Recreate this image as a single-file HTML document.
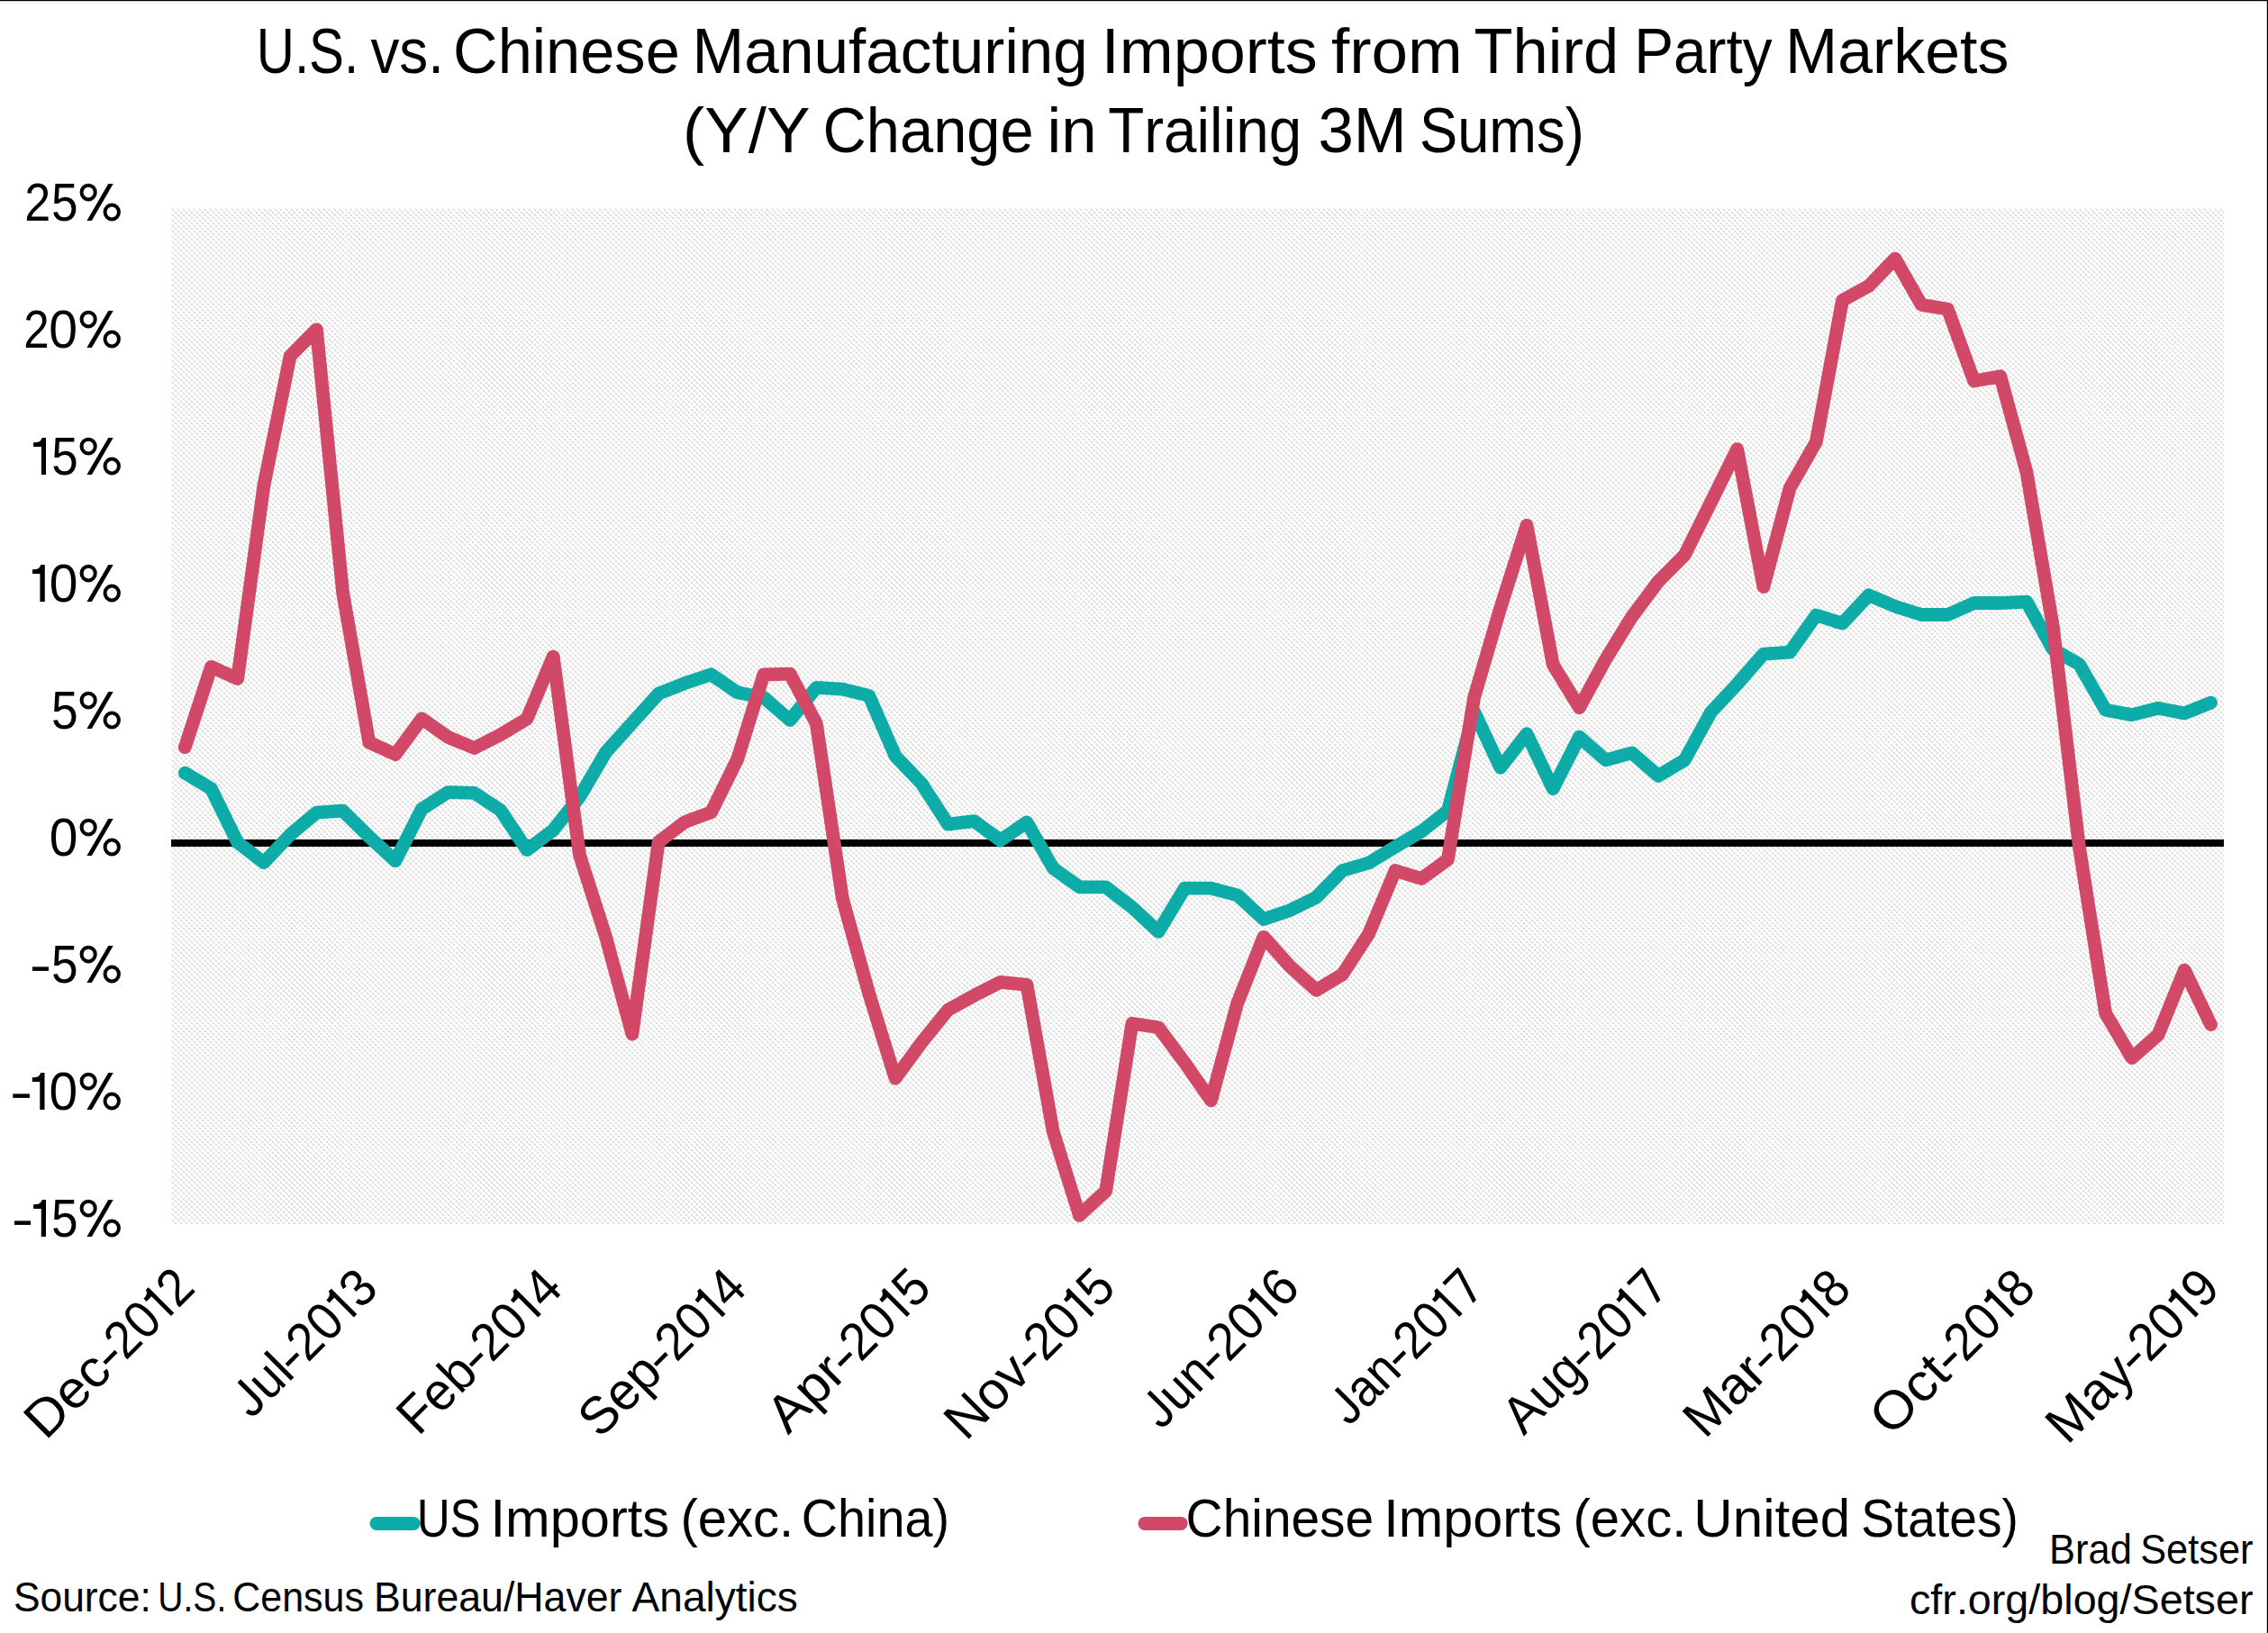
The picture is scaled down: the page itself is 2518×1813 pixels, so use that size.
<!DOCTYPE html>
<html><head><meta charset="utf-8"><style>
html,body{margin:0;padding:0;background:#fff;}
body{width:2518px;height:1813px;overflow:hidden;}
svg{display:block;}
text{font-family:"Liberation Sans",sans-serif;font-kerning:none;fill:#000;}
</style></head><body>
<svg xmlns="http://www.w3.org/2000/svg" width="2518" height="1813" viewBox="0 0 2518 1813">
<defs>
<pattern id="hatch" patternUnits="userSpaceOnUse" x="0" y="0" width="6" height="6"><rect width="6" height="6" fill="#fff"/><rect x="1" y="0" width="1" height="1" fill="#dcdcdc"/><rect x="2" y="1" width="1" height="1" fill="#dcdcdc"/><rect x="3" y="1" width="1" height="1" fill="#dcdcdc"/><rect x="2" y="2" width="1" height="1" fill="#dcdcdc"/><rect x="3" y="2" width="1" height="1" fill="#dcdcdc"/><rect x="4" y="3" width="1" height="1" fill="#dcdcdc"/><rect x="0" y="4" width="1" height="1" fill="#dcdcdc"/><rect x="5" y="4" width="1" height="1" fill="#dcdcdc"/><rect x="0" y="5" width="1" height="1" fill="#dcdcdc"/><rect x="5" y="5" width="1" height="1" fill="#dcdcdc"/></pattern>
</defs>
<rect width="2518" height="1813" fill="#fff"/>

<rect x="190.0" y="231.0" width="2279.0" height="1128.0" fill="url(#hatch)" shape-rendering="crispEdges"/>
<line x1="190.0" y1="936.00" x2="2469.0" y2="936.00" stroke="#000" stroke-width="8"/>
<polyline points="205.3,858.2 234.5,875.7 263.7,935.2 292.9,957.7 322.1,926.7 351.4,902.2 380.6,900.2 409.8,929.0 439.0,955.7 468.2,898.2 497.4,879.6 526.6,880.4 555.8,899.6 585.0,943.6 614.2,921.6 643.5,884.7 672.7,835.0 701.9,802.6 731.1,770.2 760.3,758.6 789.5,748.8 818.7,768.8 847.9,774.4 877.1,799.5 906.3,763.4 935.5,765.1 964.8,772.4 994.0,839.3 1023.2,870.0 1052.4,915.1 1081.6,911.7 1110.8,932.9 1140.0,912.9 1169.2,963.9 1198.4,984.8 1227.7,984.8 1256.9,1007.3 1286.1,1034.4 1315.3,986.2 1344.5,986.2 1373.7,993.8 1402.9,1020.6 1432.1,1010.7 1461.3,996.3 1490.5,966.5 1519.8,958.0 1549.0,940.2 1578.2,923.0 1607.4,900.2 1636.6,790.2 1665.8,852.2 1695.0,814.7 1724.2,875.7 1753.4,818.1 1782.6,843.8 1811.8,835.9 1841.1,861.3 1870.3,843.8 1899.5,790.8 1928.7,759.5 1957.9,726.2 1987.1,724.2 2016.3,683.0 2045.5,692.1 2074.7,660.8 2104.0,673.2 2133.2,682.5 2162.4,682.5 2191.6,669.5 2220.8,669.5 2250.0,668.1 2279.2,720.8 2308.4,737.5 2337.6,788.2 2366.8,793.6 2396.1,786.3 2425.3,791.9 2454.5,780.1" fill="none" stroke="#0eaca8" stroke-width="14.8" stroke-linejoin="round" stroke-linecap="round"/>
<polyline points="205.3,829.7 234.5,740.3 263.7,753.5 292.9,538.9 322.1,395.4 351.4,365.8 380.6,657.9 409.8,824.3 439.0,837.6 468.2,797.8 497.4,818.4 526.6,830.5 555.8,815.6 585.0,798.1 614.2,729.0 643.5,949.5 672.7,1040.6 701.9,1148.1 731.1,934.9 760.3,912.6 789.5,901.9 818.7,842.9 847.9,749.0 877.1,748.2 906.3,803.2 935.5,998.3 964.8,1103.2 994.0,1197.1 1023.2,1157.4 1052.4,1121.3 1081.6,1105.2 1110.8,1090.3 1140.0,1093.4 1169.2,1256.4 1198.4,1349.4 1227.7,1322.3 1256.9,1136.2 1286.1,1140.7 1315.3,1179.9 1344.5,1221.9 1373.7,1113.9 1402.9,1040.3 1432.1,1072.8 1461.3,1099.3 1490.5,1081.8 1519.8,1036.4 1549.0,966.5 1578.2,975.5 1607.4,954.3 1636.6,774.4 1665.8,674.9 1695.0,583.2 1724.2,737.8 1753.4,785.7 1782.6,732.1 1811.8,684.7 1841.1,645.5 1870.3,616.2 1899.5,557.6 1928.7,498.6 1957.9,651.5 1987.1,541.8 2016.3,490.7 2045.5,333.4 2074.7,317.6 2104.0,287.1 2133.2,338.4 2162.4,343.2 2191.6,423.0 2220.8,417.7 2250.0,524.3 2279.2,694.9 2308.4,940.2 2337.6,1124.9 2366.8,1174.6 2396.1,1148.9 2425.3,1077.0 2454.5,1137.6" fill="none" stroke="#d14967" stroke-width="14.8" stroke-linejoin="round" stroke-linecap="round"/>
<text transform="translate(284.80 81.00) scale(0.8205 1)" font-size="71.08">U.S.</text>
<text transform="translate(411.38 81.00) scale(0.8990 1)" font-size="71.08">vs.</text>
<text transform="translate(503.12 81.00) scale(0.9653 1)" font-size="71.08">Chinese</text>
<text transform="translate(768.61 81.00) scale(0.9755 1)" font-size="71.08">Manufacturing</text>
<text transform="translate(1222.65 81.00) scale(1.0139 1)" font-size="71.08">Imports</text>
<text transform="translate(1477.97 81.00) scale(1.0259 1)" font-size="71.08">from</text>
<text transform="translate(1636.52 81.00) scale(0.9926 1)" font-size="71.08">Third</text>
<text transform="translate(1814.21 81.00) scale(0.9248 1)" font-size="71.08">Party</text>
<text transform="translate(1981.97 81.00) scale(0.9826 1)" font-size="71.08">Markets</text>
<text transform="translate(758.09 169.00) scale(1.0230 1)" font-size="71.08">(Y/Y</text>
<text transform="translate(913.50 169.00) scale(0.9409 1)" font-size="71.08">Change</text>
<text transform="translate(1162.56 169.00) scale(0.9967 1)" font-size="71.08">in</text>
<text transform="translate(1230.13 169.00) scale(0.9230 1)" font-size="71.08">Trailing</text>
<text transform="translate(1463.40 169.00) scale(0.9956 1)" font-size="71.08">3M</text>
<text transform="translate(1576.03 169.00) scale(0.8897 1)" font-size="71.08">Sums)</text>
<g><text transform="translate(27.28 244.90) scale(0.5202 0.5858)" font-size="100">2</text><text transform="translate(56.97 245.12) scale(0.5315 0.5948)" font-size="100">5</text><ellipse cx="98.15" cy="213.55" rx="7.6" ry="7.9" fill="none" stroke="#000" stroke-width="4.0"/><ellipse cx="124.25" cy="235.50" rx="7.7" ry="7.95" fill="none" stroke="#000" stroke-width="4.0"/><path d="M96.40,244.90 L101.90,244.90 L125.70,204.10 L120.30,204.10 Z"/></g>
<g><text transform="translate(26.33 385.90) scale(0.5115 0.5858)" font-size="100">2</text><text transform="translate(54.37 385.92) scale(0.5711 0.5918)" font-size="100">0</text><ellipse cx="98.15" cy="354.55" rx="7.6" ry="7.9" fill="none" stroke="#000" stroke-width="4.0"/><ellipse cx="124.25" cy="376.50" rx="7.7" ry="7.95" fill="none" stroke="#000" stroke-width="4.0"/><path d="M96.40,385.90 L101.90,385.90 L125.70,345.10 L120.30,345.10 Z"/></g>
<g><path d="M37.10,491.30 L41.10,491.10 C43.90,490.60 45.90,489.30 46.80,486.10 L51.00,486.10 L51.00,526.90 L45.90,526.90 L45.90,495.90 L37.10,495.90 Z"/><text transform="translate(57.18 527.12) scale(0.5294 0.5948)" font-size="100">5</text><ellipse cx="98.15" cy="495.55" rx="7.6" ry="7.9" fill="none" stroke="#000" stroke-width="4.0"/><ellipse cx="124.25" cy="517.50" rx="7.7" ry="7.95" fill="none" stroke="#000" stroke-width="4.0"/><path d="M96.40,526.90 L101.90,526.90 L125.70,486.10 L120.30,486.10 Z"/></g>
<g><path d="M36.00,632.30 L40.00,632.10 C42.80,631.60 44.40,630.30 45.30,627.10 L49.80,627.10 L49.80,667.90 L44.40,667.90 L44.40,636.90 L36.00,636.90 Z"/><text transform="translate(54.68 667.92) scale(0.5690 0.5918)" font-size="100">0</text><ellipse cx="98.15" cy="636.55" rx="7.6" ry="7.9" fill="none" stroke="#000" stroke-width="4.0"/><ellipse cx="124.25" cy="658.50" rx="7.7" ry="7.95" fill="none" stroke="#000" stroke-width="4.0"/><path d="M96.40,667.90 L101.90,667.90 L125.70,627.10 L120.30,627.10 Z"/></g>
<g><text transform="translate(57.06 809.12) scale(0.5336 0.5948)" font-size="100">5</text><ellipse cx="98.15" cy="777.55" rx="7.6" ry="7.9" fill="none" stroke="#000" stroke-width="4.0"/><ellipse cx="124.25" cy="799.50" rx="7.7" ry="7.95" fill="none" stroke="#000" stroke-width="4.0"/><path d="M96.40,808.90 L101.90,808.90 L125.70,768.10 L120.30,768.10 Z"/></g>
<g><text transform="translate(54.68 949.92) scale(0.5690 0.5918)" font-size="100">0</text><ellipse cx="98.15" cy="918.55" rx="7.6" ry="7.9" fill="none" stroke="#000" stroke-width="4.0"/><ellipse cx="124.25" cy="940.50" rx="7.7" ry="7.95" fill="none" stroke="#000" stroke-width="4.0"/><path d="M96.40,949.90 L101.90,949.90 L125.70,909.10 L120.30,909.10 Z"/></g>
<g><rect x="35.90" y="1073.40" width="18.10" height="4.5"/><text transform="translate(56.97 1091.12) scale(0.5315 0.5948)" font-size="100">5</text><ellipse cx="98.15" cy="1059.55" rx="7.6" ry="7.9" fill="none" stroke="#000" stroke-width="4.0"/><ellipse cx="124.25" cy="1081.50" rx="7.7" ry="7.95" fill="none" stroke="#000" stroke-width="4.0"/><path d="M96.40,1090.90 L101.90,1090.90 L125.70,1050.10 L120.30,1050.10 Z"/></g>
<g><rect x="14.30" y="1214.40" width="18.60" height="4.5"/><path d="M35.80,1196.30 L39.80,1196.10 C42.60,1195.60 44.30,1194.30 45.20,1191.10 L49.50,1191.10 L49.50,1231.90 L44.30,1231.90 L44.30,1200.90 L35.80,1200.90 Z"/><text transform="translate(54.48 1231.92) scale(0.5690 0.5918)" font-size="100">0</text><ellipse cx="98.15" cy="1200.55" rx="7.6" ry="7.9" fill="none" stroke="#000" stroke-width="4.0"/><ellipse cx="124.25" cy="1222.50" rx="7.7" ry="7.95" fill="none" stroke="#000" stroke-width="4.0"/><path d="M96.40,1231.90 L101.90,1231.90 L125.70,1191.10 L120.30,1191.10 Z"/></g>
<g><rect x="16.00" y="1355.40" width="18.10" height="4.5"/><path d="M37.10,1337.30 L41.10,1337.10 C43.90,1336.60 45.80,1335.30 46.70,1332.10 L51.00,1332.10 L51.00,1372.90 L45.80,1372.90 L45.80,1341.90 L37.10,1341.90 Z"/><text transform="translate(57.07 1373.12) scale(0.5315 0.5948)" font-size="100">5</text><ellipse cx="98.15" cy="1341.55" rx="7.6" ry="7.9" fill="none" stroke="#000" stroke-width="4.0"/><ellipse cx="124.25" cy="1363.50" rx="7.7" ry="7.95" fill="none" stroke="#000" stroke-width="4.0"/><path d="M96.40,1372.90 L101.90,1372.90 L125.70,1332.10 L120.30,1332.10 Z"/></g>
<g transform="translate(216.90 1434.00) rotate(-45) translate(-229.97 0) scale(1.0241 1) translate(-4.80 0)"><text x="0.00" y="0" font-size="58.50">Dec</text></g>
<g transform="translate(216.90 1434.00) rotate(-45) translate(-118.37 0) scale(0.9352 1) translate(-113.77 0)"><path transform="translate(104.03 0) scale(0.02856 -0.02856)" d="M-5,455 L687,455 L687,612 L-5,612 Z"/></g>
<g transform="translate(216.90 1434.00) rotate(-45) translate(-118.37 0) scale(0.9277 1) translate(-113.77 0)"><text x="123.51" y="0" font-size="58.50">20</text><path transform="translate(188.58 0) scale(0.02856 -0.02856) translate(-110 0)" d="M221,1232 L330,1236 C430,1245 512,1300 540,1409 L696,1409 L696,0 L515,0 L515,1073 L221,1073 Z"/><text x="211.78" y="0" font-size="58.50">2</text></g>
<g transform="translate(420.52 1434.85) rotate(-45) translate(-199.18 0) scale(0.9414 1) translate(-0.91 0)"><path transform="translate(0.00 0) scale(0.02856 -0.02856)" d="M457 -20Q99 -20 32 350L219 381Q237 265 300.0 200.0Q363 135 458 135Q562 135 622.0 206.5Q682 278 682 416V1409H872V420Q872 215 761.0 97.5Q650 -20 457 -20Z"/><text x="29.25" y="0" font-size="58.50">ul</text></g>
<g transform="translate(420.52 1434.85) rotate(-45) translate(-120.47 0) scale(0.9016 1) translate(-84.52 0)"><path transform="translate(74.78 0) scale(0.02856 -0.02856)" d="M-5,455 L687,455 L687,612 L-5,612 Z"/></g>
<g transform="translate(420.52 1434.85) rotate(-45) translate(-120.47 0) scale(0.9414 1) translate(-84.52 0)"><text x="94.26" y="0" font-size="58.50">20</text><path transform="translate(159.33 0) scale(0.02856 -0.02856) translate(-110 0)" d="M221,1232 L330,1236 C430,1245 512,1300 540,1409 L696,1409 L696,0 L515,0 L515,1073 L221,1073 Z"/><text x="182.53" y="0" font-size="58.50">3</text></g>
<g transform="translate(625.84 1434.00) rotate(-45) translate(-223.60 0) scale(0.9594 1) translate(-4.80 0)"><text x="0.00" y="0" font-size="58.50">Feb</text></g>
<g transform="translate(625.84 1434.00) rotate(-45) translate(-122.15 0) scale(0.9167 1) translate(-110.54 0)"><path transform="translate(100.80 0) scale(0.02856 -0.02856)" d="M-5,455 L687,455 L687,612 L-5,612 Z"/></g>
<g transform="translate(625.84 1434.00) rotate(-45) translate(-122.15 0) scale(0.9481 1) translate(-110.54 0)"><text x="120.28" y="0" font-size="58.50">20</text><path transform="translate(185.35 0) scale(0.02856 -0.02856) translate(-110 0)" d="M221,1232 L330,1236 C430,1245 512,1300 540,1409 L696,1409 L696,0 L515,0 L515,1073 L221,1073 Z"/><text x="208.55" y="0" font-size="58.50">4</text></g>
<g transform="translate(830.31 1434.00) rotate(-45) translate(-229.68 0) scale(0.9745 1) translate(-2.66 0)"><text x="0.00" y="0" font-size="58.50">Sep</text></g>
<g transform="translate(830.31 1434.00) rotate(-45) translate(-121.35 0) scale(0.9212 1) translate(-113.83 0)"><path transform="translate(104.09 0) scale(0.02856 -0.02856)" d="M-5,455 L687,455 L687,612 L-5,612 Z"/></g>
<g transform="translate(830.31 1434.00) rotate(-45) translate(-121.35 0) scale(0.9419 1) translate(-113.83 0)"><text x="123.57" y="0" font-size="58.50">20</text><path transform="translate(188.64 0) scale(0.02856 -0.02856) translate(-110 0)" d="M221,1232 L330,1236 C430,1245 512,1300 540,1409 L696,1409 L696,0 L515,0 L515,1073 L221,1073 Z"/><text x="211.84" y="0" font-size="58.50">4</text></g>
<g transform="translate(1034.78 1434.00) rotate(-45) translate(-225.75 0) scale(1.0367 1) translate(-0.11 0)"><text x="0.00" y="0" font-size="58.50">Apr</text></g>
<g transform="translate(1034.78 1434.00) rotate(-45) translate(-121.40 0) scale(0.9482 1) translate(-100.78 0)"><path transform="translate(91.03 0) scale(0.02856 -0.02856)" d="M-5,455 L687,455 L687,612 L-5,612 Z"/></g>
<g transform="translate(1034.78 1434.00) rotate(-45) translate(-121.40 0) scale(0.9478 1) translate(-100.78 0)"><text x="110.52" y="0" font-size="58.50">20</text><path transform="translate(175.59 0) scale(0.02856 -0.02856) translate(-110 0)" d="M221,1232 L330,1236 C430,1245 512,1300 540,1409 L696,1409 L696,0 L515,0 L515,1073 L221,1073 Z"/><text x="198.78" y="0" font-size="58.50">5</text></g>
<g transform="translate(1239.25 1434.00) rotate(-45) translate(-231.23 0) scale(1.0107 1) translate(-4.80 0)"><text x="0.00" y="0" font-size="58.50">Nov</text></g>
<g transform="translate(1239.25 1434.00) rotate(-45) translate(-121.09 0) scale(0.9384 1) translate(-113.77 0)"><path transform="translate(104.03 0) scale(0.02856 -0.02856)" d="M-5,455 L687,455 L687,612 L-5,612 Z"/></g>
<g transform="translate(1239.25 1434.00) rotate(-45) translate(-121.09 0) scale(0.9454 1) translate(-113.77 0)"><text x="123.51" y="0" font-size="58.50">20</text><path transform="translate(188.58 0) scale(0.02856 -0.02856) translate(-110 0)" d="M221,1232 L330,1236 C430,1245 512,1300 540,1409 L696,1409 L696,0 L515,0 L515,1073 L221,1073 Z"/><text x="211.78" y="0" font-size="58.50">5</text></g>
<g transform="translate(1443.72 1434.00) rotate(-45) translate(-217.67 0) scale(0.9290 1) translate(-0.91 0)"><path transform="translate(0.00 0) scale(0.02856 -0.02856)" d="M457 -20Q99 -20 32 350L219 381Q237 265 300.0 200.0Q363 135 458 135Q562 135 622.0 206.5Q682 278 682 416V1409H872V420Q872 215 761.0 97.5Q650 -20 457 -20Z"/><text x="29.25" y="0" font-size="58.50">un</text></g>
<g transform="translate(1443.72 1434.00) rotate(-45) translate(-121.85 0) scale(0.9052 1) translate(-104.06 0)"><path transform="translate(94.32 0) scale(0.02856 -0.02856)" d="M-5,455 L687,455 L687,612 L-5,612 Z"/></g>
<g transform="translate(1443.72 1434.00) rotate(-45) translate(-121.85 0) scale(0.9522 1) translate(-104.06 0)"><text x="113.80" y="0" font-size="58.50">20</text><path transform="translate(178.87 0) scale(0.02856 -0.02856) translate(-110 0)" d="M221,1232 L330,1236 C430,1245 512,1300 540,1409 L696,1409 L696,0 L515,0 L515,1073 L221,1073 Z"/><text x="202.07" y="0" font-size="58.50">6</text></g>
<g transform="translate(1646.92 1435.27) rotate(-45) translate(-210.22 0) scale(0.9059 1) translate(-0.91 0)"><path transform="translate(0.00 0) scale(0.02856 -0.02856)" d="M457 -20Q99 -20 32 350L219 381Q237 265 300.0 200.0Q363 135 458 135Q562 135 622.0 206.5Q682 278 682 416V1409H872V420Q872 215 761.0 97.5Q650 -20 457 -20Z"/><text x="29.25" y="0" font-size="58.50">an</text></g>
<g transform="translate(1646.92 1435.27) rotate(-45) translate(-116.77 0) scale(0.8756 1) translate(-104.06 0)"><path transform="translate(94.32 0) scale(0.02856 -0.02856)" d="M-5,455 L687,455 L687,612 L-5,612 Z"/></g>
<g transform="translate(1646.92 1435.27) rotate(-45) translate(-116.77 0) scale(0.9152 1) translate(-104.06 0)"><text x="113.80" y="0" font-size="58.50">20</text><path transform="translate(178.87 0) scale(0.02856 -0.02856) translate(-110 0)" d="M221,1232 L330,1236 C430,1245 512,1300 540,1409 L696,1409 L696,0 L515,0 L515,1073 L221,1073 Z"/><path transform="translate(202.07 0) scale(0.02856 -0.02856)" d="M105 1409H1036V1275L600 0H410L850 1256H105Z"/></g>
<g transform="translate(1851.53 1435.13) rotate(-45) translate(-225.71 0) scale(0.9539 1) translate(-0.11 0)"><text x="0.00" y="0" font-size="58.50">Aug</text></g>
<g transform="translate(1851.53 1435.13) rotate(-45) translate(-117.24 0) scale(0.9005 1) translate(-113.83 0)"><path transform="translate(104.09 0) scale(0.02856 -0.02856)" d="M-5,455 L687,455 L687,612 L-5,612 Z"/></g>
<g transform="translate(1851.53 1435.13) rotate(-45) translate(-117.24 0) scale(0.9188 1) translate(-113.83 0)"><text x="123.57" y="0" font-size="58.50">20</text><path transform="translate(188.64 0) scale(0.02856 -0.02856) translate(-110 0)" d="M221,1232 L330,1236 C430,1245 512,1300 540,1409 L696,1409 L696,0 L515,0 L515,1073 L221,1073 Z"/><path transform="translate(211.84 0) scale(0.02856 -0.02856)" d="M105 1409H1036V1275L600 0H410L850 1256H105Z"/></g>
<g transform="translate(2055.79 1435.34) rotate(-45) translate(-225.77 0) scale(0.9999 1) translate(-4.80 0)"><text x="0.00" y="0" font-size="58.50">Mar</text></g>
<g transform="translate(2055.79 1435.34) rotate(-45) translate(-120.10 0) scale(0.9290 1) translate(-110.49 0)"><path transform="translate(100.75 0) scale(0.02856 -0.02856)" d="M-5,455 L687,455 L687,612 L-5,612 Z"/></g>
<g transform="translate(2055.79 1435.34) rotate(-45) translate(-120.10 0) scale(0.9383 1) translate(-110.49 0)"><text x="120.23" y="0" font-size="58.50">20</text><path transform="translate(185.30 0) scale(0.02856 -0.02856) translate(-110 0)" d="M221,1232 L330,1236 C430,1245 512,1300 540,1409 L696,1409 L696,0 L515,0 L515,1073 L221,1073 Z"/><text x="208.49" y="0" font-size="58.50">8</text></g>
<g transform="translate(2260.61 1434.99) rotate(-45) translate(-225.05 0) scale(1.0692 1) translate(-2.77 0)"><text x="0.00" y="0" font-size="58.50">Oct</text></g>
<g transform="translate(2260.61 1434.99) rotate(-45) translate(-120.29 0) scale(0.9564 1) translate(-100.75 0)"><path transform="translate(91.01 0) scale(0.02856 -0.02856)" d="M-5,455 L687,455 L687,612 L-5,612 Z"/></g>
<g transform="translate(2260.61 1434.99) rotate(-45) translate(-120.29 0) scale(0.9398 1) translate(-100.75 0)"><text x="110.49" y="0" font-size="58.50">20</text><path transform="translate(175.56 0) scale(0.02856 -0.02856) translate(-110 0)" d="M221,1232 L330,1236 C430,1245 512,1300 540,1409 L696,1409 L696,0 L515,0 L515,1073 L221,1073 Z"/><text x="198.75" y="0" font-size="58.50">8</text></g>
<g transform="translate(2465.29 1434.78) rotate(-45) translate(-235.80 0) scale(0.9950 1) translate(-4.80 0)"><text x="0.00" y="0" font-size="58.50">May</text></g>
<g transform="translate(2465.29 1434.78) rotate(-45) translate(-120.93 0) scale(0.9336 1) translate(-120.26 0)"><path transform="translate(110.52 0) scale(0.02856 -0.02856)" d="M-5,455 L687,455 L687,612 L-5,612 Z"/></g>
<g transform="translate(2465.29 1434.78) rotate(-45) translate(-120.93 0) scale(0.9464 1) translate(-120.26 0)"><text x="130.00" y="0" font-size="58.50">20</text><path transform="translate(195.07 0) scale(0.02856 -0.02856) translate(-110 0)" d="M221,1232 L330,1236 C430,1245 512,1300 540,1409 L696,1409 L696,0 L515,0 L515,1073 L221,1073 Z"/><text x="218.26" y="0" font-size="58.50">9</text></g>
<line x1="418.0" y1="1691.5" x2="459.2" y2="1691.5" stroke="#0eaca8" stroke-width="15" stroke-linecap="round"/>
<line x1="1271.0" y1="1691.4" x2="1311.2" y2="1691.4" stroke="#d14967" stroke-width="15" stroke-linecap="round"/>
<text transform="translate(462.65 1705.50) scale(0.8609 1)" font-size="59.45">US</text>
<text transform="translate(544.50 1705.50) scale(1.0023 1)" font-size="59.45">Imports</text>
<text transform="translate(755.40 1705.50) scale(0.9765 1)" font-size="59.45">(exc.</text>
<text transform="translate(889.67 1705.50) scale(0.9387 1)" font-size="59.45">China)</text>
<text transform="translate(1316.61 1706.00) scale(0.9541 1)" font-size="59.59">Chinese</text>
<text transform="translate(1536.22 1706.00) scale(0.9972 1)" font-size="59.59">Imports</text>
<text transform="translate(1746.39 1706.00) scale(0.9758 1)" font-size="59.59">(exc.</text>
<text transform="translate(1880.36 1706.00) scale(1.0090 1)" font-size="59.59">United</text>
<text transform="translate(2066.30 1706.00) scale(0.9249 1)" font-size="59.59">States)</text>
<text transform="translate(2275.03 1735.80) scale(0.9235 1)" font-size="47.09">Brad</text>
<text transform="translate(2376.13 1735.80) scale(0.9213 1)" font-size="47.09">Setser</text>
<text transform="translate(2120.02 1792.30) scale(1.0040 1)" font-size="46.51">cfr.org/blog/Setser</text>
<text transform="translate(14.88 1789.00) scale(0.9543 1)" font-size="46.51">Source:</text>
<text transform="translate(175.29 1789.00) scale(0.8400 1)" font-size="46.51">U.S.</text>
<text transform="translate(258.22 1789.00) scale(0.9247 1)" font-size="46.51">Census</text>
<text transform="translate(414.94 1789.00) scale(0.9604 1)" font-size="46.51">Bureau/Haver</text>
<text transform="translate(701.61 1789.00) scale(0.9900 1)" font-size="46.51">Analytics</text>
<rect x="0" y="0" width="2518" height="1.2" fill="#000"/>
<rect x="2516.8" y="0" width="1.2" height="1813" fill="#000"/>
</svg></body></html>
